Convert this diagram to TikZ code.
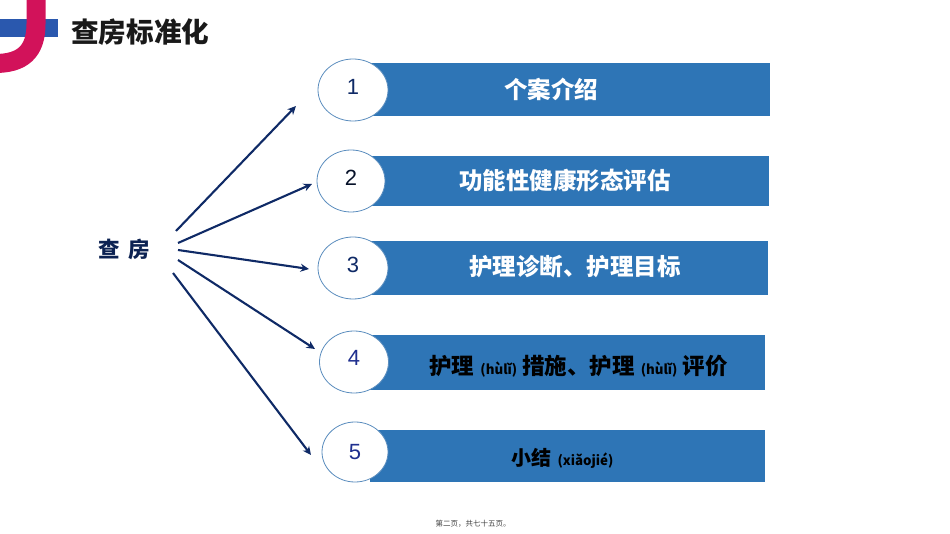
\documentclass[tikz,border=0pt]{standalone}
\usepackage{fontspec}
\setmainfont{Liberation Sans}
\newfontfamily\cjk{Noto Sans CJK SC}
\usetikzlibrary{shapes.geometric,arrows.meta}
\definecolor{barblue}{HTML}{2E75B6}
\definecolor{navy}{HTML}{0F2A66}
\definecolor{ringblue}{HTML}{5B8DBE}
\definecolor{crimson}{HTML}{D2125A}
\definecolor{logoblue}{HTML}{2A58AE}
\definecolor{numblue}{HTML}{1F2F8F}
\tikzset{
  x=1pt,y=-1pt,
  barbox/.style={fill=barblue,anchor=north west,inner sep=0pt,minimum height=#1},
  numcircle/.style={ellipse,draw=ringblue,line width=.8pt,fill=white,inner sep=0pt},
  bartext/.style={font=\cjk\bfseries\fontsize{23.5}{26}\selectfont,text=white,inner sep=0pt},
  darktext/.style={font=\cjk\bfseries\fontsize{22.5}{26}\selectfont,text=black,inner sep=0pt},
  numtext/.style={font=\fontsize{22}{24}\selectfont},
  spoke/.style={draw=navy,line width=2.1pt,-{Stealth[length=8.5pt,width=8pt]}},
}
\newcommand{\py}[1]{\hspace{6pt}{\fontsize{13.3}{16}\selectfont #1}\hspace{5pt}}
\begin{document}
\begin{tikzpicture}
\useasboundingbox (0,0) rectangle (950,534);
% logo
\fill[logoblue] (0,19) rectangle (58,37);
\draw[crimson,line width=19pt] (36,-5) -- (36,24) .. controls (36,52) and (22,63.5) .. (-5,63.5);
\node[anchor=west,inner sep=0pt,font=\cjk\bfseries\fontsize{27.6}{30}\selectfont,text=black!90] (title) at (71,32) {查房标准化};
% bars
\node[barbox=53pt,minimum width=400pt] (b1) at (370,63) {};
\node[barbox=50pt,minimum width=399pt] (b2) at (370,156) {};
\node[barbox=54pt,minimum width=398pt] (b3) at (370,241) {};
\node[barbox=55pt,minimum width=395pt] (b4) at (370,335) {};
\node[barbox=52pt,minimum width=395pt] (b5) at (370,430) {};
% circles
\node[numcircle,minimum width=70pt,minimum height=62pt] (c1) at (353,90) {};
\node[numcircle,minimum width=68pt,minimum height=62pt] (c2) at (351,181) {};
\node[numcircle,minimum width=70pt,minimum height=62pt] (c3) at (353,268) {};
\node[numcircle,minimum width=69pt,minimum height=62pt] (c4) at (354,362) {};
\node[numcircle,minimum width=66pt,minimum height=60pt] (c5) at (355,452) {};
\node[numtext,text=navy] (n1) at (353,87) {1};
\node[numtext,text=black!60!navy] (n2) at (351,178) {2};
\node[numtext,text=navy] (n3) at (353,265) {3};
\node[numtext,text=numblue] (n4) at (354,358) {4};
\node[numtext,text=numblue] (n5) at (355,452) {5};
% bar texts
\node[bartext] (t1) at (551,89) {个案介绍};
\node[bartext] (t2) at (565,181) {功能性健康形态评估};
\node[bartext] (t3) at (575,267) {护理诊断、护理目标};
\node[darktext] (t4) at (578.5,366) {护理\py{(hùlǐ)}措施、护理\py{(hùlǐ)}评价};
\node[darktext,font=\cjk\bfseries\fontsize{20}{26}\selectfont] (t5) at (565,458) {小结\py{(xiǎojié)}\hspace{-5pt}};
% centre
\node[inner sep=0pt,font=\cjk\bfseries\fontsize{21.5}{24}\selectfont,text=navy!80!black] (hub) at (124,249) {查\hspace{9pt}房};
\coordinate (s1) at (176,231);
\coordinate (s2) at (178,243);
\coordinate (s3) at (178,250);
\coordinate (s4) at (178,260);
\coordinate (s5) at (173,273);
\coordinate (e1) at (296,106);
\coordinate (e2) at (312,184);
\coordinate (e3) at (309,269);
\coordinate (e4) at (315,349);
\coordinate (e5) at (311,455);
\draw[spoke] (s1) -- (e1);
\draw[spoke] (s2) -- (e2);
\draw[spoke] (s3) -- (e3);
\draw[spoke] (s4) -- (e4);
\draw[spoke] (s5) -- (e5);
% footer
\node[inner sep=0pt,font=\cjk\fontsize{7.5}{10}\selectfont,text=black!75] (foot) at (473,524) {第二页，共七十五页。};
\end{tikzpicture}
\end{document}
